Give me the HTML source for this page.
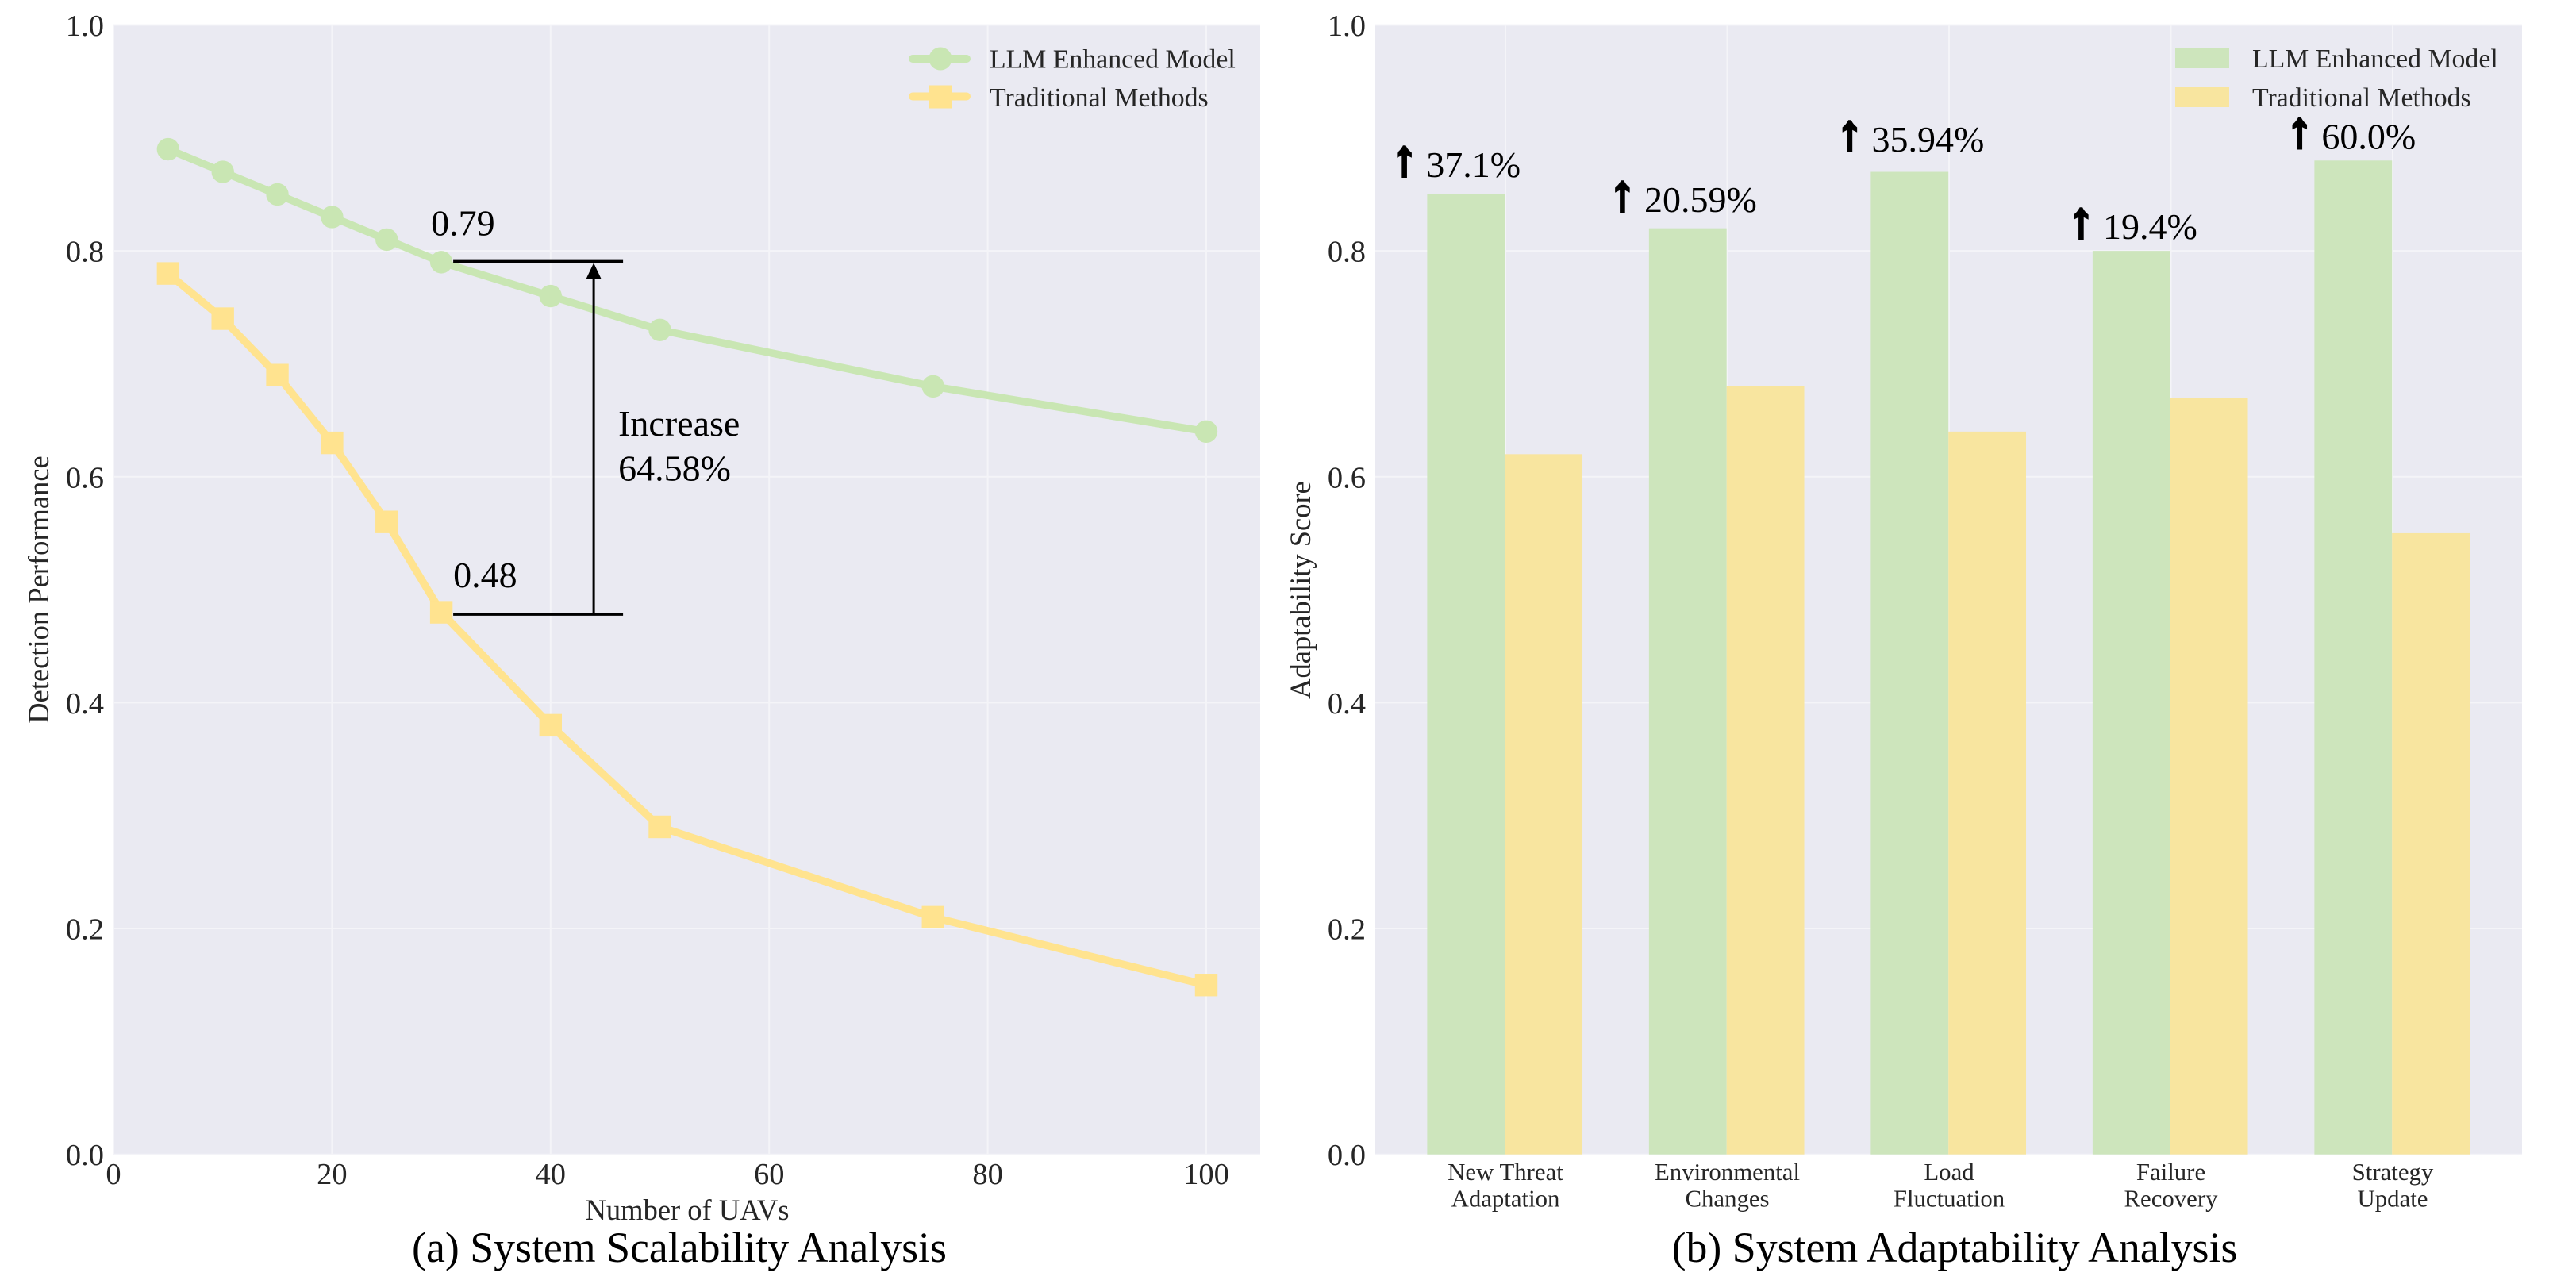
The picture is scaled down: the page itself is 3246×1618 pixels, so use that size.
<!DOCTYPE html>
<html lang="en">
<head>
<meta charset="utf-8">
<title>System Scalability and Adaptability Analysis</title>
<style>
  html, body { margin: 0; padding: 0; background: #ffffff; }
  svg { display: block; }
  text { font-family: "Liberation Serif", "Times New Roman", serif; }
  .tick { font-size: 38.5px; fill: #262626; }
  .axis-title { font-size: 36.5px; fill: #262626; }
  .legend-text { font-size: 33.8px; fill: #262626; }
  .cat { font-size: 30.8px; fill: #262626; text-anchor: middle; }
  .note { font-size: 46px; fill: #000000; }
  .arrow-glyph { font-size: 62px; font-weight: bold; fill: #000000; stroke: #000000; stroke-width: 4px; text-anchor: middle; }
  .caption { font-size: 53.8px; fill: #000000; text-anchor: middle; }
</style>
</head>
<body>
<svg id="fig" xmlns="http://www.w3.org/2000/svg" width="3246" height="1618" viewBox="0 0 3246 1618">
  <rect x="0" y="0" width="3246" height="1618" fill="#ffffff"/>

  <g id="panel-a">
    <rect x="143" y="31.5" width="1445" height="1423.2" fill="#eaeaf2"/>
    <g id="a-grid"></g>
    <g id="a-series"></g>
    <g id="a-ticks"></g>
    <g id="a-annotation"></g>
    <text class="axis-title" x="866" y="1537" text-anchor="middle">Number of UAVs</text>
    <text class="axis-title" transform="translate(61 743) rotate(-90)" text-anchor="middle">Detection Performance</text>
    <g>
      <line x1="1150" y1="74" x2="1218" y2="74" stroke="#c9e6b3" stroke-width="10" stroke-linecap="round"/>
      <circle cx="1185" cy="74" r="14.5" fill="#c9e6b3"/>
      <text class="legend-text" x="1247" y="85.5">LLM Enhanced Model</text>
      <line x1="1150" y1="121.5" x2="1218" y2="121.5" stroke="#ffe38f" stroke-width="10" stroke-linecap="round"/>
      <rect x="1171" y="107.5" width="29" height="29" fill="#ffe38f"/>
      <text class="legend-text" x="1247" y="134">Traditional Methods</text>
    </g>
    <text class="caption" x="856" y="1590">(a) System Scalability Analysis</text>
  </g>

  <g id="panel-b">
    <rect x="1732" y="31.5" width="1446" height="1423.2" fill="#eaeaf2"/>
    <g id="b-grid"></g>
    <g id="b-bars"></g>
    <g id="b-ticks"></g>
    <g id="b-notes"></g>
    <text class="axis-title" transform="translate(1651 743.5) rotate(-90)" text-anchor="middle">Adaptability Score</text>
    <g>
      <rect x="2741" y="61" width="68" height="25" fill="#cde5bc"/>
      <text class="legend-text" x="2838" y="85">LLM Enhanced Model</text>
      <rect x="2741" y="110" width="68" height="25" fill="#f8e59f"/>
      <text class="legend-text" x="2838" y="134">Traditional Methods</text>
    </g>
    <text class="caption" x="2463" y="1590">(b) System Adaptability Analysis</text>
  </g>
</svg>

<script>
// Chart (a) data
const uavCounts = [5, 10, 15, 20, 25, 30, 40, 50, 75, 100];
const llmPerformance = [0.89, 0.87, 0.85, 0.83, 0.81, 0.79, 0.76, 0.73, 0.68, 0.64];
const traditionalPerformance = [0.78, 0.74, 0.69, 0.63, 0.56, 0.48, 0.38, 0.29, 0.21, 0.15];
const xTicksA = [0, 20, 40, 60, 80, 100];
const yTicks = [0.0, 0.2, 0.4, 0.6, 0.8, 1.0];
const annotationX = 30;
const annotationHigh = 0.79;
const annotationLow = 0.48;
const annotationHighLabel = "0.79";
const annotationLowLabel = "0.48";
const increaseLines = ["Increase", "64.58%"];

// Chart (b) data
const scenarioLines = [
  ["New Threat", "Adaptation"],
  ["Environmental", "Changes"],
  ["Load", "Fluctuation"],
  ["Failure", "Recovery"],
  ["Strategy", "Update"]
];
const llmScores = [0.85, 0.82, 0.87, 0.80, 0.88];
const traditionalScores = [0.62, 0.68, 0.64, 0.67, 0.55];
const improvementLabels = ["37.1%", "20.59%", "35.94%", "19.4%", "60.0%"];
// label baseline clearance above each bar, in score units
const labelLift = [0.0155, 0.0145, 0.018, 0.0105, 0.0105];
// label horizontal shift from the bar's left edge, in category units
const labelShift = [-0.004, -0.021, 0.004, 0.047, 0.032];

const NS = "http://www.w3.org/2000/svg";
const GREEN = "#c9e6b3", YELLOW = "#ffe38f";
const BAR_GREEN = "#cde5bc", BAR_YELLOW = "#f8e59f";
const GRID = "#f4f4f8";

const plotTop = 31.5, plotBottom = 1454.7;
function yScale(v) { return plotBottom - v * (plotBottom - plotTop); }
function xA(v) { return 143 + v * 13.77; }
function xB(i) { return 1897 + i * 279.5; }
const barWidth = 0.35 * 279.5;
const barNudge = -0.8;

function el(tag, parent) {
  const e = document.createElementNS(NS, tag);
  parent.appendChild(e);
  return e;
}
function setA(e, attrs) {
  for (const k in attrs) e.setAttribute(k, attrs[k]);
  return e;
}

const aGrid = document.getElementById("a-grid");
const aSeries = document.getElementById("a-series");
const aTicks = document.getElementById("a-ticks");
const aNote = document.getElementById("a-annotation");
const bGrid = document.getElementById("b-grid");
const bBars = document.getElementById("b-bars");
const bTicks = document.getElementById("b-ticks");
const bNotes = document.getElementById("b-notes");

// Grid + y ticks, both panels
yTicks.forEach(function (v) {
  const lineA = setA(el("line", aGrid), { x1: 143, x2: 1588, y1: yScale(v), y2: yScale(v), stroke: GRID, "stroke-width": 2 });
  
  
  const lineB = setA(el("line", bGrid), { x1: 1732, x2: 3178, y1: yScale(v), y2: yScale(v), stroke: GRID, "stroke-width": 2 });
  
  

  const tA = setA(el("text", aTicks), { class: "tick", x: 131, y: yScale(v) + 13.5, "text-anchor": "end" });
  tA.textContent = v.toFixed(1);
  
  
  const tB = setA(el("text", bTicks), { class: "tick", x: 1721, y: yScale(v) + 13.5, "text-anchor": "end" });
  tB.textContent = v.toFixed(1);
  
  
});

// Chart (a) x axis
xTicksA.forEach(function (v) {
  const g = setA(el("line", aGrid), { x1: xA(v), x2: xA(v), y1: plotTop, y2: plotBottom, stroke: GRID, "stroke-width": 2 });
  
  
  const t = setA(el("text", aTicks), { class: "tick", x: xA(v), y: 1492, "text-anchor": "middle" });
  t.textContent = String(v);
  
  
});

// Chart (a) series
function pointsOf(values) {
  return values.map(function (v, i) { return xA(uavCounts[i]) + "," + yScale(v); }).join(" ");
}
const lineLlm = setA(el("polyline", aSeries), { points: pointsOf(llmPerformance), fill: "none", stroke: GREEN, "stroke-width": 9.5, "stroke-linejoin": "round" });


const lineTrad = setA(el("polyline", aSeries), { points: pointsOf(traditionalPerformance), fill: "none", stroke: YELLOW, "stroke-width": 9.5, "stroke-linejoin": "round" });



llmPerformance.forEach(function (v, i) {
  const c = setA(el("circle", aSeries), { cx: xA(uavCounts[i]), cy: yScale(v), r: 14.2, fill: GREEN });
  
  
});
traditionalPerformance.forEach(function (v, i) {
  const s = setA(el("rect", aSeries), { x: xA(uavCounts[i]) - 14.2, y: yScale(v) - 14.2, width: 28.4, height: 28.4, fill: YELLOW });
  
  
});

// Chart (a) annotation
const annStart = xA(annotationX) + 15;
const annEnd = annStart + 214;
const annArrowX = annStart + 177;
const hi = setA(el("line", aNote), { x1: annStart, x2: annEnd, y1: yScale(annotationHigh) - 1, y2: yScale(annotationHigh) - 1, stroke: "#000", "stroke-width": 3.6 });


const lo = setA(el("line", aNote), { x1: annStart, x2: annEnd, y1: yScale(annotationLow) + 2.5, y2: yScale(annotationLow) + 2.5, stroke: "#000", "stroke-width": 3.6 });


const shaft = setA(el("line", aNote), { x1: annArrowX, x2: annArrowX, y1: yScale(annotationLow) + 2.5, y2: yScale(annotationHigh) + 20, stroke: "#000", "stroke-width": 3 });


const headY = yScale(annotationHigh) + 1;
const head = setA(el("polygon", aNote), { points: annArrowX + "," + headY + " " + (annArrowX - 9.5) + "," + (headY + 20) + " " + (annArrowX + 9.5) + "," + (headY + 20), fill: "#000" });



const hiT = setA(el("text", aNote), { class: "note", x: annStart - 28, y: yScale(annotationHigh) - 34 });
hiT.textContent = annotationHighLabel;


const loT = setA(el("text", aNote), { class: "note", x: annStart, y: yScale(annotationLow) - 31.5 });
loT.textContent = annotationLowLabel;


increaseLines.forEach(function (s, i) {
  const t = setA(el("text", aNote), { class: "note", x: annEnd - 6, y: 549 + i * 56.5 });
  t.textContent = s;
  
  
});

// Chart (b)
scenarioLines.forEach(function (lines, i) {
  const g = setA(el("line", bGrid), { x1: xB(i), x2: xB(i), y1: plotTop, y2: plotBottom, stroke: GRID, "stroke-width": 2 });
  
  
  lines.forEach(function (s, j) {
    const t = setA(el("text", bTicks), { class: "cat", x: xB(i), y: 1487 + j * 33.5 });
    t.textContent = s;
    
    
  });
});

llmScores.forEach(function (v, i) {
  const barLeft = xB(i) - barWidth + barNudge;
  const b = setA(el("rect", bBars), { x: barLeft, y: yScale(v), width: barWidth, height: plotBottom - yScale(v), fill: BAR_GREEN });
  
  

  const labelLeft = barLeft + labelShift[i] * 279.5;
  const labelBase = yScale(v + labelLift[i]);
  const arrow = setA(el("text", bNotes), { class: "arrow-glyph", x: labelLeft - 27.5, y: labelBase - 3 });
  arrow.textContent = "\u2191";
  
  
  const n = setA(el("text", bNotes), { class: "note", x: labelLeft, y: labelBase });
  n.textContent = improvementLabels[i];
  
  
});
traditionalScores.forEach(function (v, i) {
  const b = setA(el("rect", bBars), { x: xB(i) + barNudge, y: yScale(v), width: barWidth, height: plotBottom - yScale(v), fill: BAR_YELLOW });
  
  
});
</script>
</body>
</html>
